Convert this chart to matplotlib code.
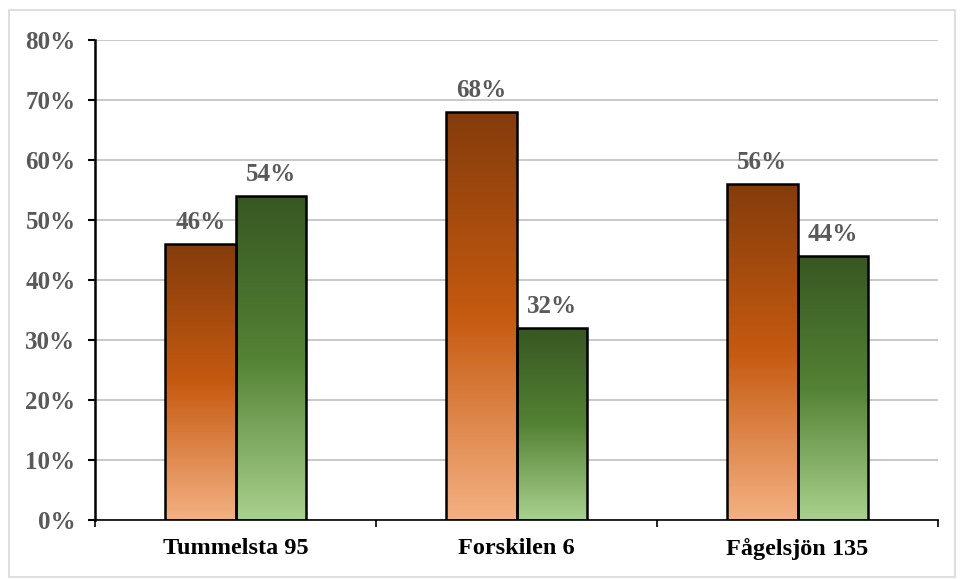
import matplotlib
matplotlib.use("Agg")
import matplotlib.pyplot as plt
import numpy as np
from matplotlib.colors import LinearSegmentedColormap
from matplotlib.patches import Rectangle

categories = ["Tummelsta 95", "Forskilen 6", "Fågelsjön 135"]
series_a = [46, 68, 56]
series_b = [54, 32, 44]
yticks = [0, 10, 20, 30, 40, 50, 60, 70, 80]

serif = ["Liberation Serif", "DejaVu Serif"]

fig = plt.figure(figsize=(9.65, 5.79), dpi=100)
fig.patches.append(Rectangle((9/965, 1-577/579), 946/965, 567/579, transform=fig.transFigure,
                             fill=False, edgecolor="#D9D9D9", linewidth=1.2))
ax = fig.add_axes([95/965, 1-520/579, 843/965, 480/579])

cmap_a = LinearSegmentedColormap.from_list("a", [(0, "#F4B183"), (0.5, "#C55A11"), (1, "#843C0C")])
cmap_b = LinearSegmentedColormap.from_list("b", [(0, "#A9D18E"), (0.5, "#548235"), (1, "#385723")])

w = 0.25
x = np.arange(len(categories))
grad = np.linspace(0, 1, 256).reshape(-1, 1)
for vals, cmap, off in [(series_a, cmap_a, -w/2), (series_b, cmap_b, w/2)]:
    bars = ax.bar(x + off, vals, width=w, facecolor="none", edgecolor="black", linewidth=1.8, zorder=3)
    for b, v in zip(bars, vals):
        x0 = b.get_x()
        ax.imshow(grad, cmap=cmap, origin="lower", aspect="auto",
                  extent=(x0, x0 + w, 0, v), zorder=2, interpolation="bilinear")
        ax.annotate(f"{v}%", (x0 + w/2, v), xytext=(0, 7), textcoords="offset points",
                    ha="center", va="bottom", fontsize=18, fontweight="bold",
                    color="#595959", family=serif, zorder=4)

ax.set_xlim(-0.5, len(categories) - 0.5)
ax.set_ylim(0, 80)
ax.set_yticks(yticks)
ax.set_yticklabels([f"{t}%" for t in yticks], fontsize=18, fontweight="bold", color="#595959", family=serif)
ax.set_xticks(x)
ax.set_xticklabels(categories, fontsize=17.5, fontweight="bold", color="black", family=serif)
ax.tick_params(axis="x", length=0, pad=13)
ax.set_xticks(np.arange(len(categories) + 1) - 0.5, minor=True)
ax.tick_params(axis="x", which="minor", length=5, width=1.2, direction="out")
ax.tick_params(axis="y", length=5, width=1.5, direction="out", pad=9)
ax.grid(axis="y", color="#BFBFBF", linewidth=1.2, zorder=0)
ax.set_axisbelow(True)
for s in ["top", "right"]:
    ax.spines[s].set_visible(False)
ax.spines["left"].set_linewidth(1.8)
ax.spines["bottom"].set_linewidth(1.2)

fig.savefig("out.png", dpi=100)
